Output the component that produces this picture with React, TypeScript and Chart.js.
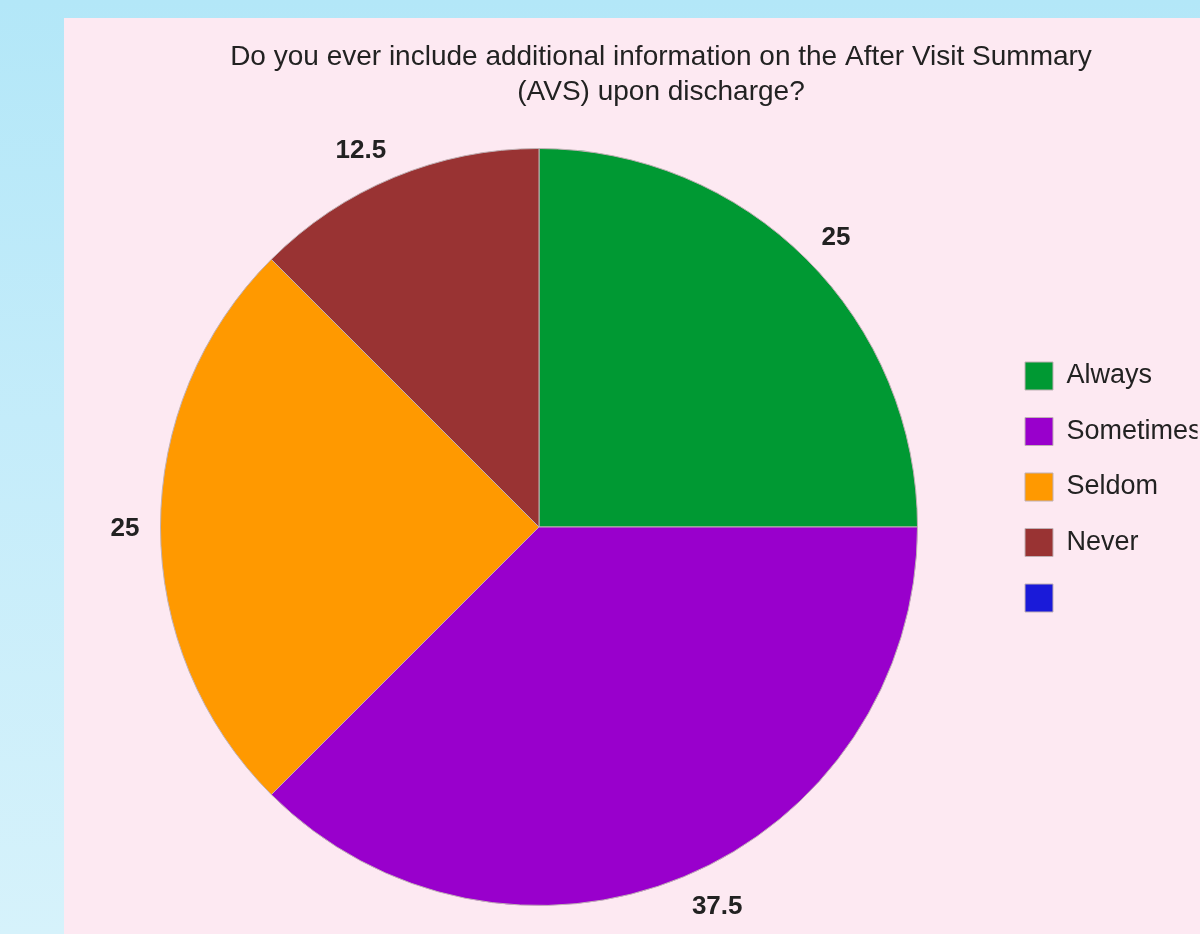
import React, { useEffect, useRef } from "react";
import { Chart, registerables } from "chart.js";

Chart.register(...registerables);

// ---- data ----
const categories: string[] = ["Always", "Sometimes", "Seldom", "Never", ""];
const values: number[] = [25, 37.5, 25, 12.5, 0];
const sliceColors: string[] = ["#009933", "#9900cc", "#ff9900", "#993333", "#1a1ad9"];
const titleLines: string[] = [
  "Do you ever include additional information on the After Visit Summary",
  "(AVS) upon discharge?",
];

const FONT = "'Liberation Sans', Arial, sans-serif";
const TEXT_COLOR = "#222222";

const titlePlugin = {
  id: "customTitle",
  afterDraw(chart: any) {
    const ctx = chart.ctx;
    ctx.save();
    ctx.font = `28px ${FONT}`;
    ctx.fillStyle = TEXT_COLOR;
    ctx.textAlign = "center";
    ctx.textBaseline = "middle";
    const cx = 597;
    titleLines.forEach((line, i) => {
      ctx.fillText(line, cx, 39 + i * 35);
    });
    ctx.restore();
  },
};

const valueLabelPlugin = {
  id: "valueLabels",
  afterDatasetsDraw(chart: any) {
    const ctx = chart.ctx;
    const meta = chart.getDatasetMeta(0);
    const data = chart.data.datasets[0].data as number[];
    ctx.save();
    ctx.font = `bold 26px ${FONT}`;
    ctx.fillStyle = TEXT_COLOR;
    ctx.textAlign = "left";
    ctx.textBaseline = "alphabetic";
    meta.data.forEach((arc: any, i: number) => {
      const v = data[i];
      if (!v) return;
      const { x, y, startAngle, endAngle, outerRadius } = arc.getProps(
        ["x", "y", "startAngle", "endAngle", "outerRadius"],
        true
      );
      const mid = (startAngle + endAngle) / 2;
      const r = outerRadius + 21;
      const dx = Math.cos(mid);
      const dy = Math.sin(mid);
      const px = x + dx * r;
      const py = y + dy * r;
      const text = String(v);
      const m = ctx.measureText(text);
      const w = m.width;
      const asc = m.actualBoundingBoxAscent;
      let tx: number;
      let ty: number;
      if (dx > 0.01) tx = px;
      else if (dx < -0.01) tx = px - w;
      else tx = px - w / 2;
      if (dy > 0.01) ty = py + asc;
      else if (dy < -0.01) ty = py;
      else ty = py + asc / 2;
      ctx.fillText(text, tx, ty);
    });
    ctx.restore();
  },
};

export default function App() {
  const canvasRef = useRef<HTMLCanvasElement | null>(null);

  useEffect(() => {
    if (!canvasRef.current) return;
    const chart = new Chart(canvasRef.current, {
      type: "pie",
      data: {
        labels: categories,
        datasets: [
          {
            data: values,
            backgroundColor: sliceColors,
            borderColor: "#c0b0b4",
            borderWidth: 1,
          },
        ],
      },
      options: {
        responsive: false,
        animation: false,
        devicePixelRatio: 1,
        layout: { padding: { top: 130, bottom: 28, left: 16.5, right: 2.5 } },
        plugins: {
          title: { display: false },
          tooltip: { enabled: false },
          legend: {
            display: true,
            position: "right",
            align: "start",
            maxWidth: 200,
            title: {
              display: true,
              text: "",
              font: { size: 10, lineHeight: 1 },
              padding: { top: 176.5, bottom: 0 },
            },
            labels: {
              boxWidth: 28,
              boxHeight: 28,
              padding: 27.5,
              color: TEXT_COLOR,
              font: { size: 27, family: FONT },
            },
          },
        },
      },
      plugins: [titlePlugin, valueLabelPlugin],
    } as any);
    return () => chart.destroy();
  }, []);

  return (
    <div
      style={{
        position: "fixed",
        left: 0,
        top: 0,
        width: 1200,
        height: 934,
        overflow: "hidden",
        background: "linear-gradient(180deg, #b3e7f8 0%, #c4ecfa 45%, #d6f2fb 100%)",
      }}
    >
      <div
        style={{
          position: "absolute",
          left: 64,
          top: 18,
          width: 1136,
          height: 916,
          background: "#fde9f2",
          overflow: "hidden",
        }}
      >
        <canvas ref={canvasRef} width={1136} height={916} style={{ display: "block" }} />
      </div>
    </div>
  );
}
